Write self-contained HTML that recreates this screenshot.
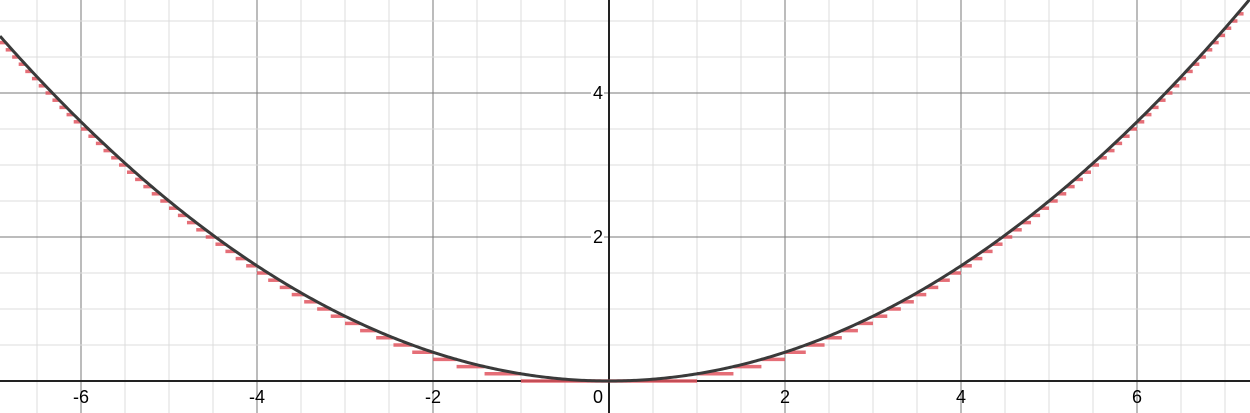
<!DOCTYPE html>
<html><head><meta charset="utf-8"><style>
html,body{margin:0;padding:0;background:#fff;}
svg{display:block;}
text{font-family:"Liberation Sans",sans-serif;font-size:18px;fill:#000;}
</style></head><body>
<svg id="chart" width="1250" height="413" viewBox="0 0 1250 413"></svg>
<script>
const xTicks = [-6,-4,-2,2,4,6];
const yTicks = [2,4];
const curveCoef = [0.1];
const stepMax = [52];
const W=1250,H=413,X0=609,Y0=381,SX=88,SY=72;
const ns='http://www.w3.org/2000/svg';
const svg=document.getElementById('chart');
function sx(x){return X0+x*SX;}
function sy(y){return Y0-y*SY;}
function mk(tag,attrs,parent){const e=document.createElementNS(ns,tag);for(const k in attrs)e.setAttribute(k,attrs[k]);(parent||svg).appendChild(e);return e;}
const grid=mk('g',{});


const xmin=(0-X0)/SX,xmax=(W-X0)/SX,ymax=Y0/SY,ymin=(Y0-H)/SY;
for(let v=Math.ceil(xmin*2)/2;v<=xmax;v+=0.5){if(v===0)continue;const major=Number.isInteger(v/2);
 const l=mk('line',{x1:sx(v),x2:sx(v),y1:0,y2:H,stroke:major?'#7a7a7a':'#dcdcdc','stroke-width':1},grid);
 
 }
for(let v=Math.ceil(ymin*2)/2;v<=ymax;v+=0.5){if(v===0)continue;const major=Number.isInteger(v/2);
 const l=mk('line',{x1:0,x2:W,y1:sy(v),y2:sy(v),stroke:major?'#7a7a7a':'#dcdcdc','stroke-width':1},grid);
 
 }
const xa=mk('line',{x1:0,x2:W,y1:Y0,y2:Y0,stroke:'#222','stroke-width':2});


const ya=mk('line',{x1:X0,x2:X0,y1:0,y2:H,stroke:'#222','stroke-width':2});


const steps=mk('g',{});


const c=curveCoef[0];
for(let k=0;k<stepMax[0];k++){
 const a=Math.sqrt(k),b=Math.sqrt(k+1),y=k*c;
 for(const s of [1,-1]){
  if(k===0&&s===-1)continue;
  const x1=k===0?-b:s*a,x2=s*b;
  const l=mk('line',{x1:sx(x1),x2:sx(x2),y1:sy(y),y2:sy(y),stroke:'#e0555f','stroke-opacity':0.85,'stroke-width':3.5},steps);
  
  
 }
}
let d='';
for(let px=0;px<=W;px+=2){const x=(px-X0)/SX;d+=(px?'L':'M')+px+','+sy(c*x*x).toFixed(2);}
const cv=mk('path',{d:d,fill:'none',stroke:'#3a3a3a','stroke-width':3});


for(const t of xTicks){const lab=mk('text',{x:sx(t),y:Y0+22,'text-anchor':'middle'});lab.textContent=String(t);
 
 }
for(const t of yTicks){const r=mk('rect',{x:X0-18,y:sy(t)-10,width:13,height:20,fill:'#fff'});
 const lab=mk('text',{x:X0-6,y:sy(t)+6,'text-anchor':'end'});lab.textContent=String(t);
 
 }
const z=mk('text',{x:X0-6,y:Y0+22,'text-anchor':'end'});z.textContent='0';


</script>
</body></html>
